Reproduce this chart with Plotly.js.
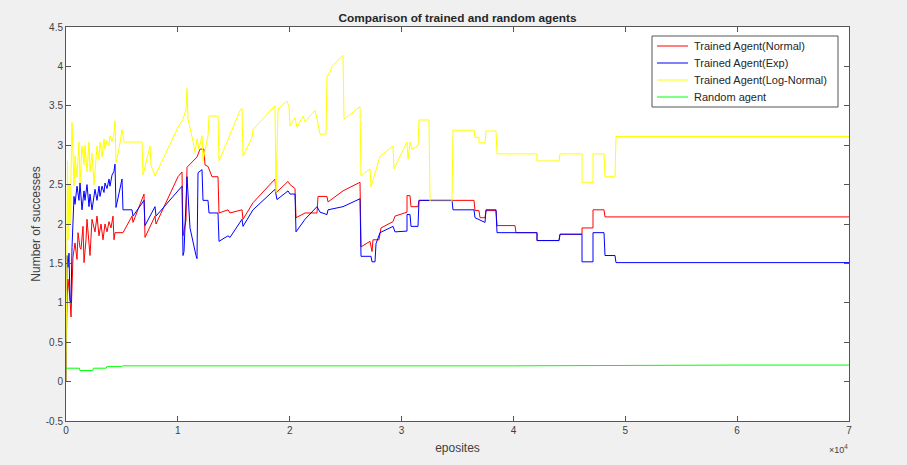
<!DOCTYPE html>
<html>
<head>
<meta charset="utf-8">
<script src="https://cdn.plot.ly/plotly-3.0.1.min.js"></script>
<style>html,body{margin:0;padding:0;background:#f0f0f0;}#chart{width:907px;height:465px;}</style>
</head>
<body>
<div id="chart"></div>
<script>
// Trained Agent (Normal)
const redX = [0,89,179,358,447,626,805,983,1073,1252,1341,1520,1609,1788,1877,2146,2324,2593,2771,2950,3129,3308,3487,3665,3844,4023,4202,4291,4381,5096,5900,5990,6973,7063,7957,8046,10013,10370,10460,10728,10817,11711,11980,12337,12427,12695,13052,13589,13678,14483,14662,15734,15824,16718,18685,18774,18953,19847,20026,20473,20562,21367,22439,22529,23333,23423,24764,26284,26373,27178,27356,27446,27982,28161,29234,29413,30485,30485,30754,30843,31469,31558,36475,36565,36922,37012,37459,37548,38442,38531,40141,40230,42107,42107,44074,44164,46130,46130,47114,47114,48097,48187,70000];
const redY = [0,1.1,1.3,1.05,0.82,1.58,1.76,1.55,1.89,1.7,1.68,1.97,1.51,1.8,2.06,1.6,2.06,1.9,2.1,1.85,2.0,1.8,2.0,1.9,2.03,1.95,2.1,1.8,1.89,1.89,2.1,2.02,2.38,1.83,2.1,2.0,2.6,2.66,1.85,2.05,2.72,2.85,2.95,2.95,2.75,2.73,2.6,2.6,2.14,2.18,2.14,2.18,2.06,2.27,2.57,2.4,2.42,2.54,2.5,2.45,2.08,2.14,2.14,2.35,2.35,2.28,2.42,2.53,1.71,1.78,1.65,1.8,1.8,1.95,2.03,2.1,2.15,2.36,2.36,2.22,2.22,2.3,2.3,2.17,2.17,2.08,2.08,2.17,2.17,1.98,1.98,1.89,1.89,1.79,1.79,1.87,1.87,1.95,1.95,2.18,2.18,2.09,2.09];

// Trained Agent (Exp)
const blueX = [0,89,179,268,358,447,536,626,715,805,983,1162,1252,1430,1609,1699,1877,2056,2146,2324,2503,2593,2771,2950,3040,3218,3397,3487,3665,3844,3934,4112,4291,4381,4470,4917,5006,5096,5900,5990,6973,7063,7957,8046,10370,10460,10549,10817,10907,11086,11622,11711,11801,12158,12248,12695,12784,13589,13678,14483,14662,15734,15824,16718,18685,18863,19847,20026,20473,20562,21367,22439,22708,23333,23423,24764,26284,26373,27267,27356,27625,27714,28072,29234,29413,30485,30485,30754,30843,31469,31558,34508,34598,36475,36565,37459,37548,38442,38531,42107,42107,44074,44164,46130,46130,47114,47114,48097,48187,49081,49170,70000];
const blueY = [0,1.6,1.45,1.63,1.03,1.0,1.7,2.1,2.35,2.25,2.48,2.3,2.52,2.18,2.42,2.3,2.5,2.22,2.38,2.18,2.35,2.44,2.3,2.48,2.35,2.48,2.4,2.52,2.45,2.57,2.48,2.62,2.67,2.76,2.21,2.5,2.57,2.18,2.18,2.1,2.3,1.98,2.22,2.1,2.48,1.6,1.65,2.6,2.35,1.95,1.6,1.56,2.65,2.69,2.3,2.3,2.14,2.14,1.78,1.85,1.83,2.06,1.97,2.18,2.44,2.31,2.42,2.38,2.38,1.9,2.06,2.22,2.15,2.12,2.18,2.22,2.32,1.59,1.59,1.52,1.52,1.75,1.89,1.97,1.9,1.91,2.12,2.12,1.97,1.97,2.3,2.3,2.18,2.18,2.08,2.02,2.18,2.18,1.89,1.89,1.79,1.79,1.87,1.87,1.52,1.52,1.89,1.89,1.6,1.6,1.51,1.51];

// Trained Agent (Log-Normal)
const yellowX = [0,89,134,179,268,358,536,715,805,983,1162,1252,1430,1609,1699,1877,2056,2146,2324,2503,2771,2950,3040,3218,3397,3487,3665,3844,3934,4112,4291,4381,4470,4738,5006,5185,6794,6884,7510,7599,7957,10013,10460,10728,10817,10907,11264,11354,11533,11711,11890,12158,12248,12695,12784,13589,13678,15556,15734,15824,16628,16718,18685,18774,18953,19757,19937,20026,20473,20652,21188,21367,22261,22439,22708,23244,23333,23602,23780,24764,24853,26284,26373,27178,27267,28072,29234,29324,30485,30575,30754,30932,31469,31558,32452,32542,34508,34598,36475,36565,36922,36922,37459,37548,38442,38531,42107,42107,44074,44164,46130,46130,47114,47114,48097,48187,49081,49170,70000];
const yellowY = [0,2.0,2.8,1.8,2.5,2.0,3.29,2.48,2.86,2.6,3.04,2.52,2.99,2.75,3.0,2.66,3.04,2.66,2.9,2.5,2.99,2.82,3.04,2.85,3.08,2.95,3.06,3.0,3.12,3.04,3.15,3.31,2.78,2.95,3.2,3.04,3.04,2.62,2.99,2.75,2.61,3.23,3.33,3.45,3.72,3.33,3.12,3.05,2.91,3.08,2.95,3.12,2.8,3.12,3.37,3.37,2.8,3.44,3.47,2.86,3.1,3.2,3.5,2.4,3.46,3.56,3.49,3.25,3.35,3.23,3.37,3.3,3.44,3.34,3.14,3.14,3.87,3.93,4.0,4.14,3.33,3.49,2.61,2.7,2.47,2.86,2.99,2.7,3.04,2.82,3.04,2.95,2.99,3.32,3.32,2.29,2.29,3.19,3.19,3.1,3.1,3.03,3.03,3.18,3.18,2.89,2.89,2.8,2.8,2.89,2.89,2.53,2.53,2.89,2.89,2.6,2.6,3.11,3.11];

// Random agent
const greenX = [0,1200,1250,2400,2450,3600,3650,5000,5050,20000,40000,60000,70000];
const greenY = [0.17,0.17,0.14,0.14,0.17,0.17,0.19,0.19,0.2,0.2,0.2,0.21,0.21];

const seriesNames = ['Trained Agent(Normal)','Trained Agent(Exp)','Trained Agent(Log-Normal)','Random agent'];
const seriesColors = ['#ff0000','#0000ff','#ffff00','#00ff00'];
const xTickVals = [0,10000,20000,30000,40000,50000,60000,70000];
const xTickText = ['0','1','2','3','4','5','6','7'];
const yTickVals = [-0.5,0,0.5,1,1.5,2,2.5,3,3.5,4,4.5];
const yTickText = ['-0.5','0','0.5','1','1.5','2','2.5','3','3.5','4','4.5'];

const mk = (x, y, i) => ({x: x, y: y, name: seriesNames[i], type: 'scatter', mode: 'lines', line: {color: seriesColors[i], width: 1}, showlegend: false});
const data = [mk(redX, redY, 0), mk(blueX, blueY, 1), mk(yellowX, yellowY, 2), mk(greenX, greenY, 3)];

// plot area in pixels (for the hand-built MATLAB-style legend)
const W = 907, H = 465, L = 66, R = 58, T = 27, B = 44;
const pw = W - L - R, ph = H - T - B;
const px = v => (v - L) / pw;
const py = v => (H - B - v) / ph;

const shapes = [{type: 'rect', xref: 'paper', yref: 'paper', x0: px(652), x1: px(838), y0: py(107), y1: py(36),
  fillcolor: '#ffffff', line: {color: '#555555', width: 1}, layer: 'above'}];
const annotations = [];
seriesNames.forEach((name, i) => {
  const yy = 46 + i * 17;
  shapes.push({type: 'line', xref: 'paper', yref: 'paper', x0: px(657), x1: px(688), y0: py(yy), y1: py(yy),
    line: {color: seriesColors[i], width: 1}, layer: 'above'});
  annotations.push({text: name, xref: 'paper', yref: 'paper', x: px(692), y: py(yy), xanchor: 'left', yanchor: 'middle',
    showarrow: false, font: {size: 11, color: '#262626'}});
});
annotations.push({text: '×10<sup>4</sup>', xref: 'paper', yref: 'paper', x: px(850), y: py(449), xanchor: 'right', yanchor: 'middle',
  showarrow: false, font: {size: 9, color: '#404040'}});

const axisCommon = {
  showgrid: false, zeroline: false, showline: true, linecolor: '#555555', linewidth: 1,
  mirror: 'ticks', ticks: 'inside', ticklen: 5, tickcolor: '#555555',
  tickfont: {family: 'Liberation Sans, Arial, sans-serif', size: 10, color: '#404040'}
};

const layout = {
  width: W, height: H,
  paper_bgcolor: '#f0f0f0', plot_bgcolor: '#ffffff',
  margin: {l: L, r: R, t: T, b: B},
  font: {family: 'Liberation Sans, Arial, sans-serif', color: '#262626'},
  title: {text: '<b>Comparison of trained and random agents</b>', x: 0.5, xref: 'paper', y: 0.962, yanchor: 'middle', font: {size: 11.8, color: '#262626'}},
  xaxis: Object.assign({}, axisCommon, {range: [0, 70000], tickmode: 'array', tickvals: xTickVals, ticktext: xTickText,
    title: {text: 'eposites', standoff: 8, font: {size: 12, color: '#404040'}}}),
  yaxis: Object.assign({}, axisCommon, {range: [-0.5, 4.5], tickmode: 'array', tickvals: yTickVals, ticktext: yTickText,
    title: {text: 'Number of successes', standoff: 2, font: {size: 12, color: '#404040'}}}),
  showlegend: false,
  shapes: shapes,
  annotations: annotations
};

Plotly.newPlot('chart', data, layout, {displayModeBar: false, staticPlot: true});
</script>
</body>
</html>
